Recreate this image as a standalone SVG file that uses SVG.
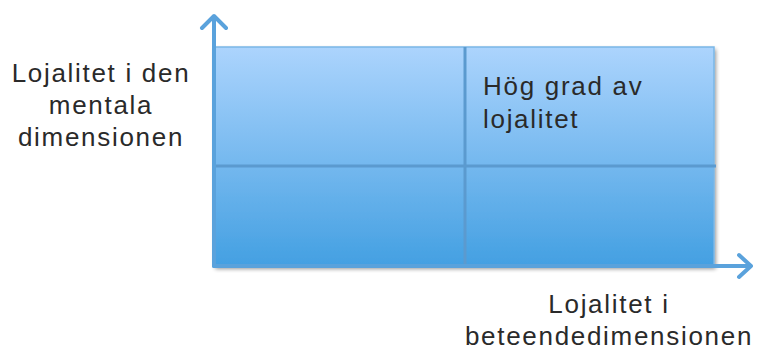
<svg xmlns="http://www.w3.org/2000/svg" width="758" height="351" viewBox="0 0 758 351">
<style>
.lbl{font-family:"Liberation Sans",Arial,sans-serif;font-size:26px;fill:#2a2a2a;letter-spacing:1.7px}
.axis{stroke:#5aa2dc;stroke-width:4;fill:none;stroke-linecap:round;stroke-linejoin:round}
.grid{stroke:#5b9acf;stroke-width:3;fill:none}
</style>
<defs>
<linearGradient id="g" x1="0" y1="0" x2="0" y2="1">
<stop offset="0" stop-color="#acd4fd"/>
<stop offset="1" stop-color="#44a0e2"/>
</linearGradient>
<filter id="sh" x="-5%" y="-5%" width="110%" height="115%">
<feGaussianBlur in="SourceAlpha" stdDeviation="2"/>
<feOffset dx="1" dy="3"/>
<feComponentTransfer><feFuncA type="linear" slope="0.45"/></feComponentTransfer>
<feMerge><feMergeNode/><feMergeNode in="SourceGraphic"/></feMerge>
</filter>
</defs>
<g id="matrix">
<rect x="215" y="47" width="499" height="218" fill="url(#g)" stroke="#7ab6e6" stroke-width="1.5" filter="url(#sh)"/>
<line class="grid" x1="465" y1="47" x2="465" y2="265"/>
<line class="grid" x1="216" y1="166" x2="716" y2="166"/>
</g>
<g id="connectors">
<path class="axis" d="M214 266 V16 M202 28 L214 16 L226 28"/>
<path class="axis" d="M214 266 H751 M739 255 L751 266 L739 277"/>
</g>
<g id="label-y">
<text class="lbl" x="101" y="82" text-anchor="middle">Lojalitet i den</text>
<text class="lbl" x="101" y="114" text-anchor="middle">mentala</text>
<text class="lbl" x="101" y="146" text-anchor="middle">dimensionen</text>
</g>
<g id="label-q">
<text class="lbl" x="483" y="95">Hög grad av</text>
<text class="lbl" x="483" y="128">lojalitet</text>
</g>
<g id="label-x">
<text class="lbl" x="609" y="313" text-anchor="middle">Lojalitet i</text>
<text class="lbl" x="609" y="345" text-anchor="middle">beteendedimensionen</text>
</g>
</svg>
